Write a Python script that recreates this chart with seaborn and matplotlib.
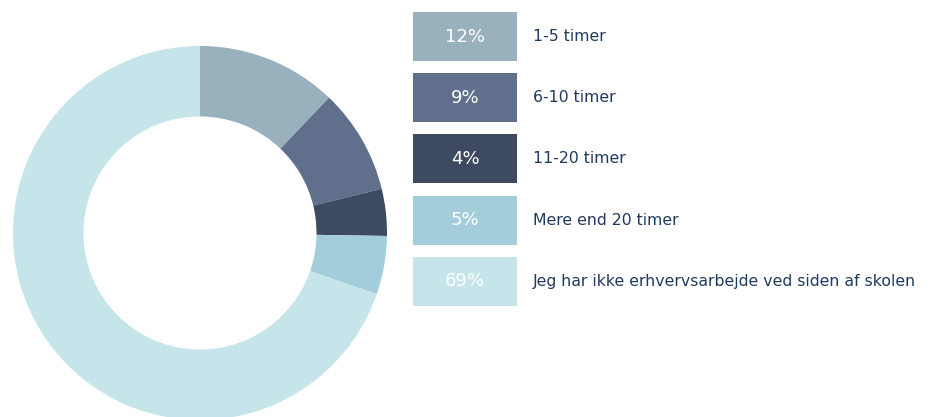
import matplotlib
matplotlib.use("Agg")
import matplotlib.pyplot as plt
import seaborn as sns
from matplotlib.patches import Rectangle

# --- Data ---
categories = ["1-5 timer", "6-10 timer", "11-20 timer", "Mere end 20 timer",
              "Jeg har ikke erhvervsarbejde ved siden af skolen"]
shares = [12, 9, 4, 5, 69]
pct_labels = ["12%", "9%", "4%", "5%", "69%"]
colors = ["#99b1bc", "#5f6f8c", "#3d4a5f", "#a4cddb", "#c5e5ea"]

W, H = 931, 417
DPI = 100
TEXT_COLOR = "#1f3a5f"

sns.set_theme(style="white")
plt.rcParams["font.family"] = ["DejaVu Sans"]

fig = plt.figure(figsize=(W / DPI, H / DPI), dpi=DPI)
fig.patch.set_facecolor("white")

# donut: centre (200, 233) px from top, outer radius 187 px
cx, cy, r = 200, H - 233, 187
ax = fig.add_axes([(cx - r) / W, (cy - r) / H, 2 * r / W, 2 * r / H])
palette = sns.color_palette(colors)
ax.pie(shares, colors=palette, startangle=90, counterclock=False,
       radius=1.0, wedgeprops=dict(width=0.377, linewidth=0))
ax.set_xlim(-1, 1)
ax.set_ylim(-1, 1)
ax.set_aspect("equal")
ax.axis("off")

# legend boxes with percentages
box_x, box_w, box_h = 413, 104, 49
box_top0, pitch = 12, 61.2
for i, (cat, pct, col) in enumerate(zip(categories, pct_labels, palette)):
    top = box_top0 + i * pitch
    fig.patches.append(Rectangle((box_x / W, (H - top - box_h) / H), box_w / W, box_h / H,
                                 transform=fig.transFigure, facecolor=col,
                                 edgecolor="none"))
    yc = (H - top - box_h / 2) / H
    fig.text((box_x + box_w / 2) / W, yc, pct, ha="center", va="center",
             color="white", fontsize=13)
    fig.text(533 / W, yc, cat, ha="left", va="center",
             color=TEXT_COLOR, fontsize=11.3)

fig.savefig("out.png", dpi=DPI)
